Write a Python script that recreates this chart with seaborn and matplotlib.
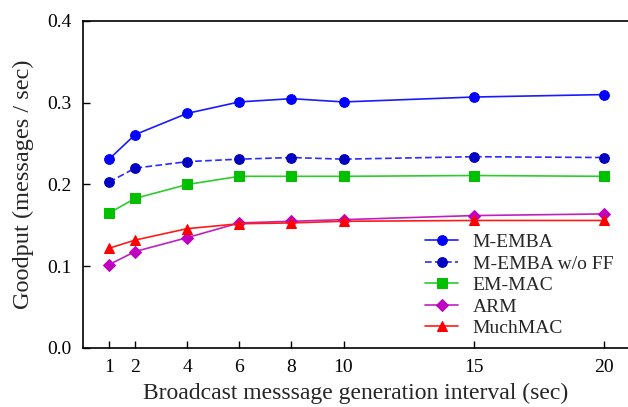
import pandas as pd
import matplotlib
matplotlib.use("Agg")
import matplotlib.pyplot as plt
import seaborn as sns

intervals = [1, 2, 4, 6, 8, 10, 15, 20]
m_emba = [0.231, 0.261, 0.287, 0.301, 0.305, 0.301, 0.307, 0.310]
m_emba_noff = [0.203, 0.220, 0.228, 0.231, 0.233, 0.231, 0.234, 0.233]
em_mac = [0.165, 0.183, 0.200, 0.210, 0.210, 0.210, 0.211, 0.210]
arm = [0.102, 0.118, 0.135, 0.153, 0.155, 0.157, 0.162, 0.164]
much_mac = [0.122, 0.132, 0.146, 0.152, 0.153, 0.155, 0.156, 0.156]

names = ["M-EMBA", "M-EMBA w/o FF", "EM-MAC", "ARM", "MuchMAC"]
series = [m_emba, m_emba_noff, em_mac, arm, much_mac]

rows = []
for name, vals in zip(names, series):
    for x, y in zip(intervals, vals):
        rows.append({"interval": x, "goodput": y, "scheme": name})
df = pd.DataFrame(rows)

sns.set_theme(style="ticks")
plt.rcParams["font.family"] = ["Liberation Serif", "DejaVu Serif"]

# line colour, marker face, marker, dash
styles = {
    "M-EMBA": ("#1a1aff", "#0000ff", "o", ""),
    "M-EMBA w/o FF": ("#2a2aff", "#0000c0", "o", (4, 2)),
    "EM-MAC": ("#2ccc2c", "#00c000", "s", ""),
    "ARM": ("#c020c0", "#c000c0", "D", ""),
    "MuchMAC": ("#ff1a1a", "#ff0000", "^", ""),
}

fig = plt.figure(figsize=(6.28, 4.07), dpi=100)
ax = fig.add_axes([83 / 628, 59 / 407, 545 / 628, 327 / 407])

for name in names:
    lc, mc, mk, dash = styles[name]
    d = df[df["scheme"] == name]
    ms = 6.5 if mk == "D" else 7
    line_kws = dict(color=lc, marker=mk, markersize=ms,
                    markerfacecolor=mc, markeredgecolor=mc, linewidth=1.2)
    if dash:
        line_kws["dashes"] = dash
    sns.lineplot(data=d, x="interval", y="goodput", ax=ax, label=name, **line_kws)

ax.set_xlim(0, 20.92)
ax.set_ylim(0, 0.4)
ax.set_xticks(intervals)
ax.set_yticks([0.0, 0.1, 0.2, 0.3, 0.4])
ax.set_yticklabels(["0.0", "0.1", "0.2", "0.3", "0.4"])
ax.tick_params(direction="in", length=5, width=1, labelsize=14, colors="black")
ax.tick_params(axis="x", pad=8)
ax.tick_params(axis="y", pad=8)
for s in ["left", "bottom", "top"]:
    ax.spines[s].set_color("black")
    ax.spines[s].set_linewidth(1.2)
ax.spines["right"].set_visible(False)

ax.set_xlabel("Broadcast messsage generation interval (sec)", fontsize=17, labelpad=5)
ax.set_ylabel("Goodput (messages / sec)", fontsize=17.5, labelpad=10)

ax.legend(loc="lower right", bbox_to_anchor=(1.005, -0.02), frameon=False,
          fontsize=14, handlelength=1.7, labelspacing=0.2, handletextpad=0.75)

fig.savefig("out.png", dpi=100)
